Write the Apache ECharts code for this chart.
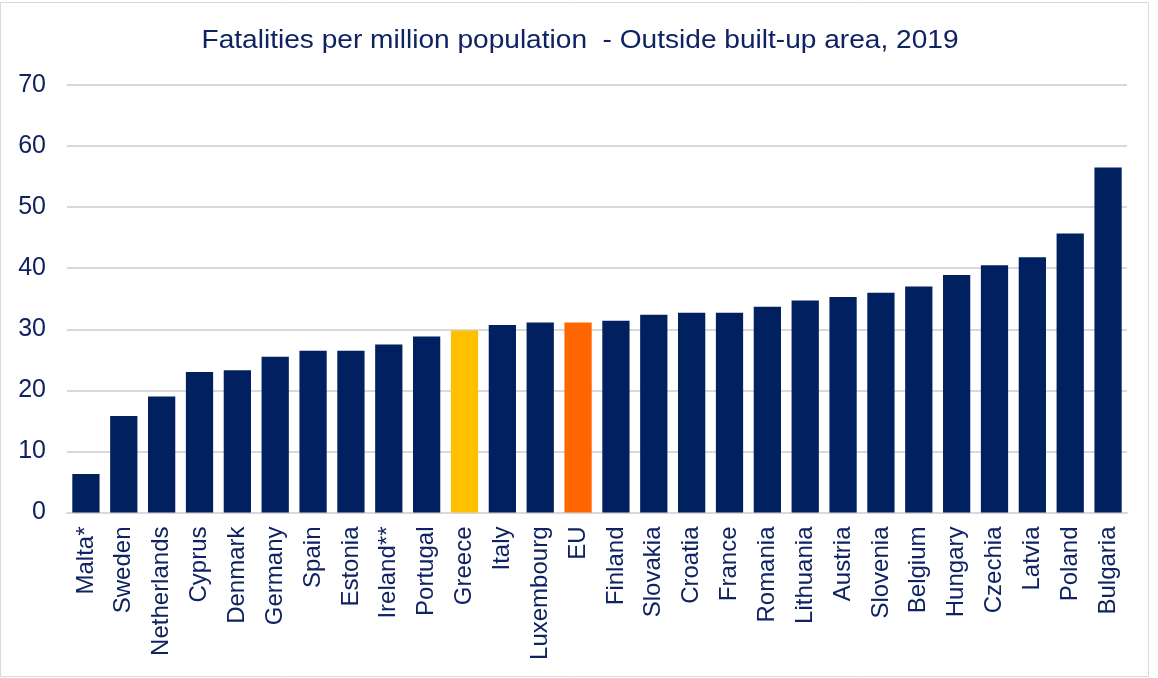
<!DOCTYPE html>
<html>
<head>
<meta charset="utf-8">
<script src="https://cdn.jsdelivr.net/npm/echarts@6/dist/echarts.min.js"></script>
<style>
  html, body { margin: 0; padding: 0; background: #ffffff; }
  #chart { width: 1158px; height: 678px; }
</style>
</head>
<body>
<div id="chart"></div>
<script>
// Countries ordered by fatality rate outside built-up areas
const countries = ['Malta*', 'Sweden', 'Netherlands', 'Cyprus', 'Denmark', 'Germany', 'Spain', 'Estonia',
  'Ireland**', 'Portugal', 'Greece', 'Italy', 'Luxembourg', 'EU', 'Finland', 'Slovakia', 'Croatia', 'France',
  'Romania', 'Lithuania', 'Austria', 'Slovenia', 'Belgium', 'Hungary', 'Czechia', 'Latvia', 'Poland', 'Bulgaria'];

// Fatalities per million population, 2019
const fatalities = [6.3, 15.8, 19.0, 23.0, 23.3, 25.5, 26.5, 26.5,
  27.5, 28.8, 29.8, 30.7, 31.1, 31.1, 31.4, 32.4, 32.7, 32.7,
  33.7, 34.7, 35.3, 36.0, 37.0, 38.9, 40.5, 41.8, 45.7, 56.5];

// Y-axis ticks
const yTicks = [0, 10, 20, 30, 40, 50, 60, 70];

const chartTitle = 'Fatalities per million population  - Outside built-up area, 2019';

const NAVY = '#002060';
const highlight = { 'Greece': '#FFC000', 'EU': '#FF6600' };
const textColor = '#0F2362';
const font = '"Liberation Sans", Arial, sans-serif';

const chart = echarts.init(document.getElementById('chart'), null, { renderer: 'canvas' });

chart.setOption({
  backgroundColor: '#ffffff',
  animation: false,
  graphic: [
    {
      // outer frame
      type: 'rect',
      shape: { x: 0.5, y: 2.5, width: 1148, height: 674 },
      style: { fill: null, stroke: '#d9d9d9', lineWidth: 1 },
      silent: true,
      z: -1
    },
    {
      // title, slightly widened
      type: 'text',
      x: 580,
      y: 41,
      scaleX: 1.08,
      style: {
        text: chartTitle,
        fontFamily: font,
        fontSize: 26,
        fill: textColor,
        textAlign: 'center',
        textVerticalAlign: 'middle'
      },
      silent: true
    }
  ],
  grid: { left: 67, right: 31, top: 85, bottom: 165.5, containLabel: false },
  xAxis: {
    type: 'category',
    data: countries,
    axisLine: { show: true, lineStyle: { color: '#d9d9d9', width: 2 } },
    axisTick: { show: false },
    axisLabel: {
      rotate: 90,
      interval: 0,
      margin: 14,
      fontFamily: font,
      fontSize: 24,
      color: textColor
    }
  },
  yAxis: {
    type: 'value',
    min: yTicks[0],
    max: yTicks[yTicks.length - 1],
    interval: yTicks[1] - yTicks[0],
    axisLine: { show: false },
    axisTick: { show: false },
    splitLine: { lineStyle: { color: '#d9d9d9', width: 2 } },
    axisLabel: { margin: 21, fontFamily: font, fontSize: 25, color: textColor }
  },
  series: [{
    type: 'bar',
    barWidth: '72%',
    data: countries.map((name, i) => ({
      value: fatalities[i],
      itemStyle: { color: highlight[name] || NAVY }
    }))
  }]
});
</script>
</body>
</html>
